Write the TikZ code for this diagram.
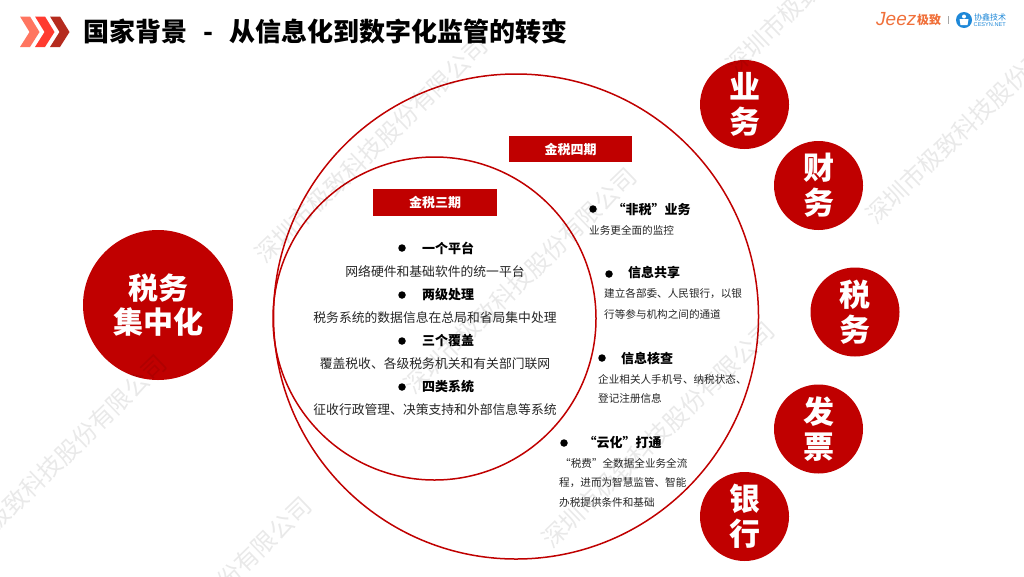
\documentclass[tikz,border=0pt]{standalone}
\usepackage{fontspec}
\setmainfont{Noto Sans CJK SC}
\newfontfamily\latinfont{Liberation Sans}
\definecolor{dred}{HTML}{C00000}
\definecolor{ringred}{HTML}{C00000}
\definecolor{jeez}{HTML}{F0703A}
\definecolor{cesyn}{HTML}{1E88D8}
\definecolor{chevA}{HTML}{FF7560}
\definecolor{chevB}{HTML}{FF3B30}
\definecolor{chevC}{HTML}{B52B1E}
\newcommand{\fs}[1]{\fontsize{#1pt}{#1pt}\selectfont}
\newcommand{\fsl}[2]{\fontsize{#1pt}{#2pt}\selectfont}
\tikzset{
  ring/.style={circle,draw=ringred,line width=1.5pt,inner sep=0pt},
  topic/.style={circle,fill=dred,inner sep=0pt,minimum size=89pt,text=white,align=center,font=\fsl{31}{35}\bfseries},
  tag/.style={fill=dred,text=white,inner sep=0pt,minimum width=123.5pt,minimum height=26.5pt,font=\fs{13}\bfseries},
  head/.style={anchor=west,inner sep=0pt,font=\fs{13}\bfseries,text=black},
  desc/.style={inner sep=0pt,font=\fs{12.8},text=black!85},
  small/.style={anchor=west,inner sep=0pt,font=\fs{10.6},text=black!85},
  dot/.style={circle,fill=black,inner sep=0pt,minimum size=7.5pt},
  wmark/.style={inner sep=0pt,rotate=44,text=black,opacity=.085,font=\fs{24}},
}
\begin{document}
\begin{tikzpicture}[x=1pt,y=-1pt]
\useasboundingbox (0,0) rectangle (1024,576);
\clip (0,0) rectangle (1024,576);
\fill[white] (0,0) rectangle (1024,576);
% header
\fill[chevA] (20,16.5) -- (30,16.5) -- (39.5,32) -- (30,47) -- (20,47) -- (29.5,32) -- cycle;
\fill[chevB] (35,16.5) -- (45,16.5) -- (54.5,32) -- (45,47) -- (35,47) -- (44.5,32) -- cycle;
\fill[chevC] (50,16.5) -- (60,16.5) -- (69.5,32) -- (60,47) -- (50,47) -- (59.5,32) -- cycle;
\node[anchor=west,inner sep=0pt,font=\fs{26}\bfseries,text=black] (title) at (83,32) {国家背景\hspace{10pt} - \hspace{10pt}从信息化到数字化监管的转变};
% logos
\node[anchor=west,inner sep=0pt,text=jeez,font=\latinfont\itshape\fs{19}] (jeezword) at (876,19) {Jeez};
\node[anchor=west,inner sep=0pt,text=jeez,font=\fs{12}\bfseries] (jeezcn) at (917,19.5) {极致};
\draw[black!35,line width=.8pt] (948,16) -- (948,24);
\node[circle,fill=cesyn,minimum size=16pt,inner sep=0pt] (cesynlogo) at (964,20) {};
\fill[white] (964,16.5) circle[radius=2pt];
\fill[white] (959.5,19) -- (968.5,19) -- (967.5,25) -- (960.5,25) -- cycle;
\node[anchor=west,inner sep=0pt,text=cesyn,font=\fs{8}] (cesyncn) at (974,17) {协鑫技术};
\node[anchor=west,inner sep=0pt,text=cesyn,font=\latinfont\fs{5.6}] (cesynen) at (973.5,25) {CESYN.NET};
% rings
\node[ring,minimum size=485pt] (outer) at (516,316.5) {};
\node[ring,minimum size=323pt] (inner) at (434.5,318.5) {};
% big circles
\node[topic,minimum size=150pt,font=\fsl{30}{34}\bfseries] (central) at (158,305) {税务\\集中化};
\node[topic] (yewu) at (744.5,104.5) {业\\务};
\node[topic] (caiwu) at (818.5,185.5) {财\\务};
\node[topic] (shuiwu) at (855,312) {税\\务};
\node[topic] (fapiao) at (818.5,429) {发\\票};
\node[topic] (yinhang) at (744.5,516.5) {银\\行};
% tags
\node[tag] (phase4) at (570.5,149) {金税四期};
\node[tag] (phase3) at (435,202.5) {金税三期};
% inner text
\node[dot] (d1) at (402,248) {};
\node[head] (h1) at (422,248) {一个平台};
\node[desc] (t1) at (435,272) {网络硬件和基础软件的统一平台};
\node[dot] (d2) at (402,295) {};
\node[head] (h2) at (422,295) {两级处理};
\node[desc] (t2) at (435,318) {税务系统的数据信息在总局和省局集中处理};
\node[dot] (d3) at (402,341) {};
\node[head] (h3) at (422,341) {三个覆盖};
\node[desc] (t3) at (435,364) {覆盖税收、各级税务机关和有关部门联网};
\node[dot] (d4) at (402,387) {};
\node[head] (h4) at (422,387) {四类系统};
\node[desc] (t4) at (435,410) {征收行政管理、决策支持和外部信息等系统};
% outer text
\node[dot] (e1) at (593,209) {};
\node[head] (g1) at (612.5,209) {“非税”业务};
\node[small] (s1) at (589,230) {业务更全面的监控};
\node[dot] (e2) at (609,274) {};
\node[head] (g2) at (628,273) {信息共享};
\node[small] (s2a) at (604,294) {建立各部委、人民银行，以银};
\node[small] (s2b) at (604,314) {行等参与机构之间的通道};
\node[dot] (e3) at (602,358) {};
\node[head] (g3) at (621,358) {信息核查};
\node[small] (s3a) at (598,379) {企业相关人手机号、纳税状态、};
\node[small] (s3b) at (598,398) {登记注册信息};
\node[dot] (e4) at (564,443) {};
\node[head] (g4) at (583.5,443) {“云化”打通};
\node[small] (s4a) at (560,463) {“税费”全数据全业务全流};
\node[small] (s4b) at (559,483) {程，进而为智慧监管、智能};
\node[small] (s4c) at (559,502) {办税提供条件和基础};
% watermark
\node[wmark] (w1) at (371,150) {深圳市极致科技股份有限公司};
\node[wmark] (w2) at (50,468) {深圳市极致科技股份有限公司};
\node[wmark] (w3) at (195,610) {深圳市极致科技股份有限公司};
\node[wmark] (w4) at (658,435) {深圳市极致科技股份有限公司};
\node[wmark] (w5) at (982,111) {深圳市极致科技股份有限公司};
\node[wmark] (w6) at (842,-39) {深圳市极致科技股份有限公司};
\node[wmark] (w7) at (520,281) {深圳市极致科技股份有限公司};
\end{tikzpicture}
\end{document}
